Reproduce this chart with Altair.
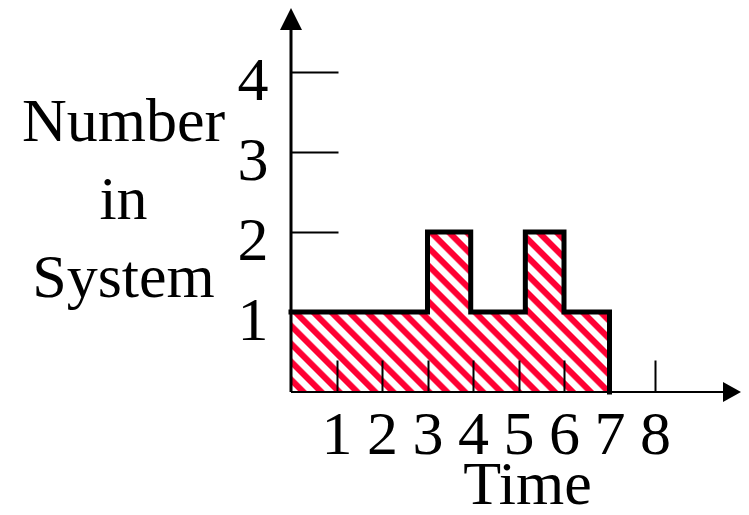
import math
import altair as alt
import pandas as pd

# ---- data ----
step_time = [0, 3, 3.95, 5.15, 6, 7]      # change points on the time axis
step_count = [1, 2, 1, 2, 1, 1]           # number in system from each change point on
x_tick_values = [1, 2, 3, 4, 5, 6, 7, 8]
y_tick_values = [1, 2, 3, 4]
y_title_lines = ["Number", "in", "System"]
x_title_text = "Time"

# ---- layout / style ----
W = 450
H = 384
PX_X = 45.5
X_MAX = W / PX_X
Y_MAX = 4.8
FONT = "Liberation Serif"
FS = 62
RED = "#ff0033"
WHITE = "#ffffff"

px_x = W / X_MAX
px_y = H / Y_MAX

area_df = pd.DataFrame({"t": step_time, "n": step_count})
line_df = pd.DataFrame({"t": step_time + [step_time[-1]], "n": step_count + [0]})
xaxis_df = pd.DataFrame({"t": [0], "t2": [X_MAX - 0.2], "n": [0]})
yaxis_df = pd.DataFrame({"t": [0], "n": [0], "n2": [Y_MAX - 0.2]})
yarrow_df = pd.DataFrame({"t": [0], "n": [Y_MAX]})
xarrow_df = pd.DataFrame({"t": [X_MAX], "n": [0]})

# ---- diagonal hatch built as a linear gradient with hard stops ----
bw = (max(step_time) - min(step_time)) * px_x
bh = max(step_count) * px_y
k = (bw + bh) / (bw * bw + bh * bh)
gx2 = k * bw
gy2 = 1 - k * bh
L = (bw + bh) / math.sqrt(2)
period = 12.7
f = period / L
stops = []
i = 0
while i * f < 1:
    s = i * f
    pts = [(s, WHITE), (s + 0.40 * f, WHITE), (s + 0.50 * f, RED),
           (s + 0.88 * f, RED), (s + 0.98 * f, WHITE)]
    for o, c in pts:
        if o <= 1:
            stops.append(alt.GradientStop(color=c, offset=round(o, 5)))
    i += 1
hatch = alt.LinearGradient(gradient="linear", stops=stops,
                           x1=0, y1=1, x2=round(gx2, 5), y2=round(gy2, 5))

xs = alt.Scale(domain=[0, X_MAX], nice=False, zero=False)
ys = alt.Scale(domain=[0, Y_MAX], nice=False, zero=False)

x_axis = alt.Axis(
    values=x_tick_values, format="d", orient="bottom", offset=-32, domain=False, grid=False,
    ticks=True, tickSize=32, tickWidth=2, tickColor="black",
    labelFont=FONT, labelFontSize=FS, labelColor="black", labelBaseline="alphabetic",
    labelPadding=61, labelOverlap=False, labelFlush=False, labelBound=False,
    title=x_title_text, titleFont=FONT, titleFontSize=FS, titleFontWeight="normal",
    titleColor="black", titleX=236, titleY=143, titleAlign="center",
    titleBaseline="alphabetic", titleAnchor="start", zindex=1,
)
y_axis = alt.Axis(
    values=y_tick_values, format="d", orient="left", offset=-47, domain=False, grid=False,
    ticks=True, tickSize=47, tickWidth=2, tickColor="black",
    labelFont=FONT, labelFontSize=FS, labelColor="black", labelBaseline="alphabetic",
    labelAlign="right", labelPadding=23, labelOffset=27,
    labelOverlap=False, labelFlush=False, labelBound=False,
    title=y_title_lines, titleFont=FONT, titleFontSize=FS, titleFontWeight="normal",
    titleColor="black", titleAngle=0, titleX=-215, titleY=132, titleAlign="center",
    titleBaseline="alphabetic", titleLineHeight=78, titleAnchor="start", zindex=1,
)

area = alt.Chart(area_df).mark_area(interpolate="step-after", color=hatch).encode(
    x=alt.X("t:Q", scale=xs, axis=x_axis),
    y=alt.Y("n:Q", scale=ys, axis=y_axis),
)

outline = alt.Chart(line_df).mark_line(
    interpolate="step-after", color="black", strokeWidth=5,
    strokeJoin="miter", strokeCap="square",
).encode(x="t:Q", y="n:Q")

x_line = alt.Chart(xaxis_df).mark_rule(color="black", strokeWidth=2).encode(
    x="t:Q", x2="t2:Q", y="n:Q"
)
y_line = alt.Chart(yaxis_df).mark_rule(color="black", strokeWidth=3).encode(
    x="t:Q", y="n:Q", y2="n2:Q"
)

y_arrow = alt.Chart(yarrow_df).mark_point(
    shape="M0,0L1,2L-1,2Z", size=484, filled=True, color="black", opacity=1, strokeWidth=0
).encode(x="t:Q", y="n:Q")

x_arrow = alt.Chart(xarrow_df).mark_point(
    shape="M0,0L-1.8,-1L-1.8,1Z", size=400, filled=True, color="black", opacity=1, strokeWidth=0
).encode(x="t:Q", y="n:Q")

chart = alt.layer(area, outline, x_line, y_line, y_arrow, x_arrow).properties(
    width=W, height=H,
    autosize=alt.AutoSizeParams(type="none"),
    padding={"left": 283, "top": 0, "right": 0, "bottom": 115},
    background="white",
).configure_view(stroke=None)

chart.save("out.html", embed_options={"renderer": "svg", "actions": False})
